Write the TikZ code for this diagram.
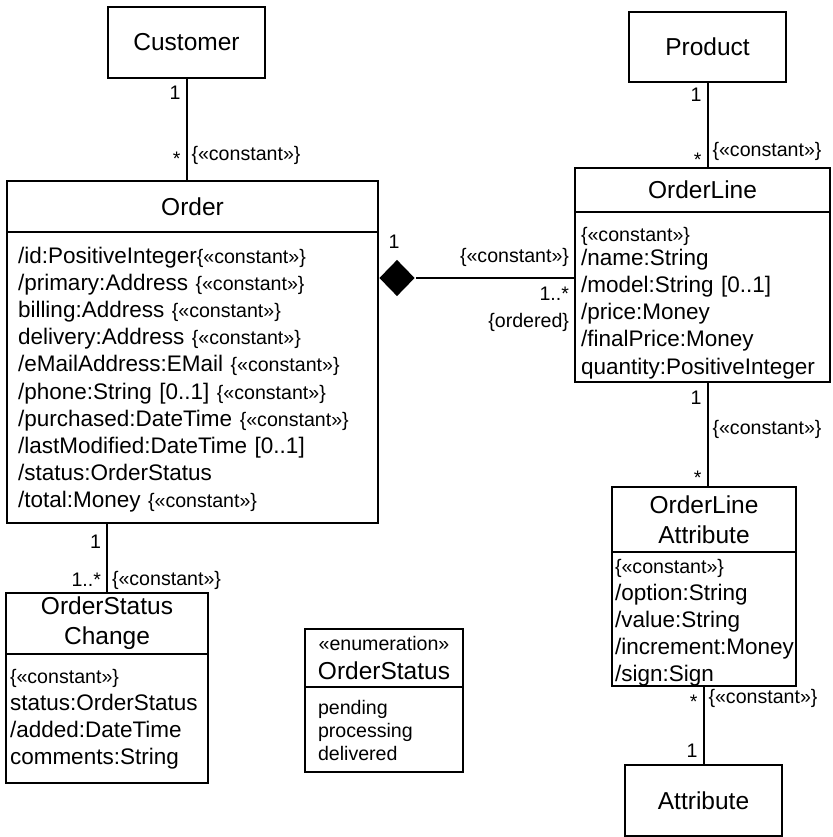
\documentclass[tikz,border=0pt]{standalone}
\usepackage{fontspec}
\setmainfont{Liberation Sans}
\usetikzlibrary{shapes.geometric}

\newcommand{\cnst}{{\fontsize{19.6}{27}\selectfont\{«constant»\}}}

\begin{document}
\begin{tikzpicture}[x=1pt,y=-1pt,line width=2pt,
	box/.style={draw,inner sep=0pt,outer sep=0pt,font=\fontsize{24.5}{30}\selectfont,align=center},
	attrs/.style={inner sep=0pt,anchor=base west,align=left,font=\fontsize{22.5}{27.2}\selectfont},
	mult/.style={inner sep=0pt,font=\fontsize{19.6}{23}\selectfont},
	lm/.style={mult,anchor=base east,xshift=-5pt},
	rm/.style={mult,anchor=base west,xshift=4pt}]
	\useasboundingbox (0,0) rectangle (832,837);

	%CUSTOMER, PRODUCT, ATTRIBUTE
	\node[box,minimum width=157,minimum height=71] (customer) at (186.5,42.5) {Customer};
	\node[box,minimum width=157,minimum height=70] (product) at (707.5,47) {Product};
	\node[box,minimum width=157,minimum height=71] (attribute) at (703.5,800.5) {Attribute};

	%ORDER
	\node[box,minimum width=371,minimum height=51] (order) at (192.5,206.5) {Order};
	\node[box,minimum width=371,minimum height=291,anchor=north] (orderbody) at (order.south) {};
	\node[attrs,text width=355] (orderattrs) at ([xshift=10pt,yshift=-31pt]orderbody.north west)
		{/id:PositiveInteger\cnst\\
		/primary:Address \cnst\\
		billing:Address \cnst\\
		delivery:Address \cnst\\
		/eMailAddress:EMail \cnst\\
		/phone:String [0..1] \cnst\\
		/purchased:DateTime \cnst\\
		/lastModified:DateTime [0..1]\\
		/status:OrderStatus\\
		/total:Money \cnst};

	%ORDERLINE
	\node[box,minimum width=255,minimum height=44] (orderline) at (702.5,190) {OrderLine};
	\node[box,minimum width=255,minimum height=170,anchor=north] (olbody) at (orderline.south) {};
	\node[attrs,text width=250] (olattrs) at ([xshift=5pt,yshift=-29pt]olbody.north west)
		{\cnst\\[-3pt]
		/name:String\\
		/model:String [0..1]\\
		/price:Money\\
		/finalPrice:Money\\
		quantity:PositiveInteger};

	%ORDERLINE ATTRIBUTE
	\node[box,minimum width=184,minimum height=65] (olattr) at (704,519.5) {OrderLine\\Attribute};
	\node[box,minimum width=184,minimum height=134,anchor=north] (olabody) at (olattr.south) {};
	\node[attrs,text width=185] (olaattrs) at ([xshift=2pt,yshift=-21pt]olabody.north west)
		{\cnst\\
		/option:String\\
		/value:String\\
		/increment:Money\\
		/sign:Sign};

	%ORDERSTATUS CHANGE
	\node[box,minimum width=202,minimum height=61] (osc) at (107,623.5) {OrderStatus\\Change};
	\node[box,minimum width=202,minimum height=129,anchor=north] (oscbody) at (osc.south) {};
	\node[attrs,text width=200] (oscattrs) at ([xshift=3pt,yshift=-29pt]oscbody.north west)
		{\cnst\\
		status:OrderStatus\\
		/added:DateTime\\
		comments:String};

	%ENUMERATION
	\node[box,minimum width=158,minimum height=58] (enum) at (384,658)
		{{\fontsize{19.6}{23}\selectfont «enumeration»}\\[-1.5pt]OrderStatus};
	\node[box,minimum width=158,minimum height=85,anchor=north] (enumbody) at (enum.south) {};
	\node[attrs,text width=140,font=\fontsize{19.6}{23}\selectfont] (enumvals) at ([xshift=12pt,yshift=-27pt]enumbody.north west)
		{pending\\
		processing\\
		delivered};

	%ASSOCIATIONS
	\draw (customer.south) -- (customer.south |- order.north)
		node[lm,pos=.21] (custone) {1}
		node[lm,pos=.85] (custmany) {*}
		node[rm,pos=.80] (custconst) {\{«constant»\}};
	\draw (product.south) -- (product.south |- orderline.north)
		node[lm,pos=.23] (prodone) {1}
		node[lm,pos=.98] (prodmany) {*}
		node[rm,pos=.87] (prodconst) {\{«constant»\}};
	\draw (product.south |- olbody.south) -- (product.south |- olattr.north)
		node[lm,pos=.21] (olone) {1}
		node[rm,pos=.50] (olconst) {\{«constant»\}}
		node[lm,pos=.98] (olmany) {*};
	\draw (attribute.north |- olabody.south) -- (attribute.north)
		node[lm,pos=.28] (olamany) {*}
		node[rm,pos=.22] (olaconst) {\{«constant»\}}
		node[lm,pos=.91] (olaone) {1};
	\draw (osc.north |- orderbody.south) -- (osc.north)
		node[lm,pos=.36] (oscone) {1}
		node[lm,pos=.91] (oscmany) {1..*}
		node[rm,pos=.89] (oscconst) {\{«constant»\}};

	%COMPOSITION
	\node[diamond,fill,inner sep=0pt,minimum width=36,minimum height=37,anchor=west] (comp) at (378,278) {};
	\node[mult,anchor=base] (compone) at ([xshift=-3pt,yshift=10pt]comp.north) {1};
	\draw (comp.east) -- (comp.east -| olbody.west)
		node[lm,pos=1,yshift=16pt] (compconst) {\{«constant»\}}
		node[lm,pos=1,yshift=-22pt] (compmany) {1..*}
		node[lm,pos=1,yshift=-49pt] (compord) {\{ordered\}};
\end{tikzpicture}
\end{document}
